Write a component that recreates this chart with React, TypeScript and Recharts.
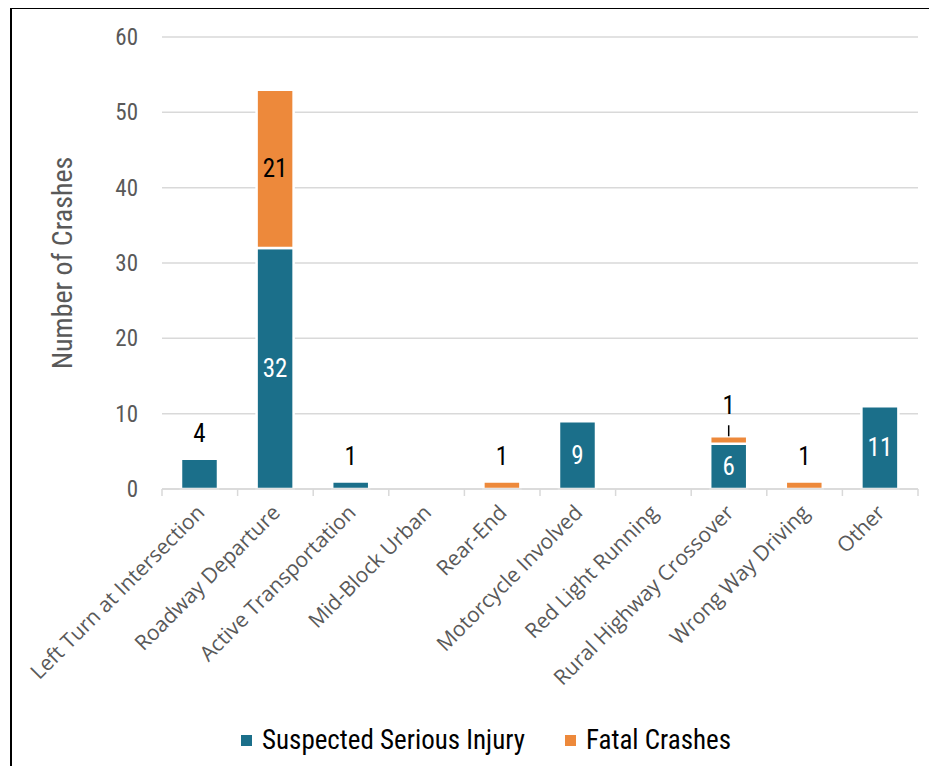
import React from 'react';
import { BarChart, Bar, XAxis, YAxis, CartesianGrid, LabelList, Legend } from 'recharts';

// Crash counts by emphasis area
const categories = [
  'Left Turn at Intersection',
  'Roadway Departure',
  'Active Transportation',
  'Mid-Block Urban',
  'Rear-End',
  'Motorcycle Involved',
  'Red Light Running',
  'Rural Highway Crossover',
  'Wrong Way Driving',
  'Other',
];
const seriousInjury = [4, 32, 1, 0, 0, 9, 0, 6, 0, 11];
const fatalCrashes = [0, 21, 0, 0, 1, 0, 0, 1, 1, 0];
const yTicks = [0, 10, 20, 30, 40, 50, 60];
const seriesNames = ['Suspected Serious Injury', 'Fatal Crashes'];

const BLUE = '#1B6F8A';
const ORANGE = '#ED893B';
const GRID = '#D9D9D9';
const AXIS_TEXT = '#595959';
const NARROW = '"Liberation Sans Narrow", "Arial Narrow", "Roboto Condensed", Roboto, sans-serif';
const WIDE = '"Open Sans", "Noto Sans", sans-serif';

type Row = { name: string; ssi: number; fatal: number };

const data: Row[] = categories.map((name, i) => ({
  name,
  ssi: seriousInjury[i],
  fatal: fatalCrashes[i],
}));

// Category label rotated -45deg, plus tick marks at the band edges
const CategoryTick = (props: any) => {
  const { x, y, payload, index } = props;
  const half = typeof payload?.offset === 'number' && payload.offset > 0 ? payload.offset : 37.8;
  const isLast = index === categories.length - 1;
  const ax = x + 6;
  const ay = y + 25;
  return (
    <g>
      <line x1={x - half} y1={y} x2={x - half} y2={y + 7} stroke={GRID} strokeWidth={1.5} />
      {isLast && <line x1={x + half} y1={y} x2={x + half} y2={y + 7} stroke={GRID} strokeWidth={1.5} />}
      <text
        x={ax}
        y={ay}
        textAnchor="end"
        transform={`rotate(-45, ${ax}, ${ay})`}
        fill={AXIS_TEXT}
        fontSize={21}
        fontFamily={WIDE}
      >
        {payload.value}
      </text>
    </g>
  );
};

// Value labels: inside tall segments, above short ones.
// The label value is the whole row so the fatal label knows whether a segment sits below it.
const makeValueLabel = (series: 'ssi' | 'fatal') => (props: any) => {
  const { x, y, width, height } = props;
  const row = props.value as Row | undefined;
  if (!row || typeof row !== 'object') return null;
  const value = row[series];
  if (!value) return null;
  const cx = x + width / 2;
  const common = {
    textAnchor: 'middle' as const,
    dominantBaseline: 'central' as const,
    fontSize: 25,
    fontFamily: NARROW,
  };
  if (height >= 40) {
    return (
      <text x={cx} y={y + height / 2} fill={series === 'ssi' ? '#FFFFFF' : '#000000'} {...common}>
        {value}
      </text>
    );
  }
  const hasSegmentBelow = series === 'fatal' && row.ssi > 0;
  if (hasSegmentBelow) {
    return (
      <g>
        <line x1={cx} y1={y} x2={cx} y2={y - 11} stroke="#000000" strokeWidth={1.5} />
        <text x={cx} y={y - 31} fill="#000000" {...common}>
          {value}
        </text>
      </g>
    );
  }
  return (
    <text x={cx} y={y - 25} fill="#000000" {...common}>
      {value}
    </text>
  );
};

const LegendContent = () => (
  <div
    style={{
      display: 'flex',
      justifyContent: 'center',
      alignItems: 'center',
      paddingTop: 10,
      paddingLeft: 54,
      fontFamily: NARROW,
      fontSize: 27,
      color: '#000000',
    }}
  >
    {[BLUE, ORANGE].map((c, i) => (
      <div key={c} style={{ display: 'flex', alignItems: 'center', marginRight: i === 0 ? 40 : 0 }}>
        <span style={{ width: 11, height: 11, background: c, display: 'inline-block', marginRight: 10 }} />
        <span>{seriesNames[i]}</span>
      </div>
    ))}
  </div>
);

const YLabel = (props: any) => {
  const vb = props.viewBox || { x: 0, y: 37, width: 162, height: 452 };
  const cx = vb.x + 62;
  const cy = vb.y + vb.height / 2;
  return (
    <text
      x={cx}
      y={cy}
      transform={`rotate(-90, ${cx}, ${cy})`}
      textAnchor="middle"
      dominantBaseline="central"
      fill={AXIS_TEXT}
      fontSize={28}
      fontFamily={NARROW}
    >
      Number of Crashes
    </text>
  );
};

const wholeRow = (d: any) => d;

export default function App() {
  return (
    <div style={{ position: 'relative', margin: -8, width: 937, height: 774, overflow: 'hidden', background: '#fff' }}>
      <div
        style={{
          position: 'absolute',
          left: 10,
          top: 7,
          width: 2000,
          height: 2000,
          borderLeft: '2px solid #000',
          borderTop: '2px solid #000',
        }}
      />
      <div style={{ position: 'absolute', left: 0, top: 0 }}>
        <BarChart
          width={937}
          height={774}
          data={data}
          margin={{ top: 37, right: 19, left: 0, bottom: 0 }}
          barCategoryGap={0}
        >
          <CartesianGrid vertical={false} stroke={GRID} strokeWidth={1.5} />
          <YAxis
            domain={[0, 60]}
            ticks={yTicks}
            width={162}
            axisLine={false}
            tickLine={false}
            tickSize={0}
            tickMargin={24}
            tick={{ fill: AXIS_TEXT, fontSize: 23, fontFamily: NARROW }}
            label={<YLabel />}
          />
          <XAxis
            dataKey="name"
            interval={0}
            height={225}
            tickLine={false}
            tickSize={0}
            tickMargin={0}
            axisLine={{ stroke: GRID, strokeWidth: 1.5 }}
            tick={<CategoryTick />}
          />
          <Legend verticalAlign="bottom" height={60} content={<LegendContent />} />
          <Bar dataKey="ssi" name={seriesNames[0]} stackId="a" fill={BLUE} stroke="#FFFFFF" strokeWidth={2.5} barSize={37} isAnimationActive={false}>
            <LabelList dataKey={wholeRow} content={makeValueLabel('ssi')} />
          </Bar>
          <Bar dataKey="fatal" name={seriesNames[1]} stackId="a" fill={ORANGE} stroke="#FFFFFF" strokeWidth={2.5} barSize={37} isAnimationActive={false}>
            <LabelList dataKey={wholeRow} content={makeValueLabel('fatal')} />
          </Bar>
        </BarChart>
      </div>
    </div>
  );
}
